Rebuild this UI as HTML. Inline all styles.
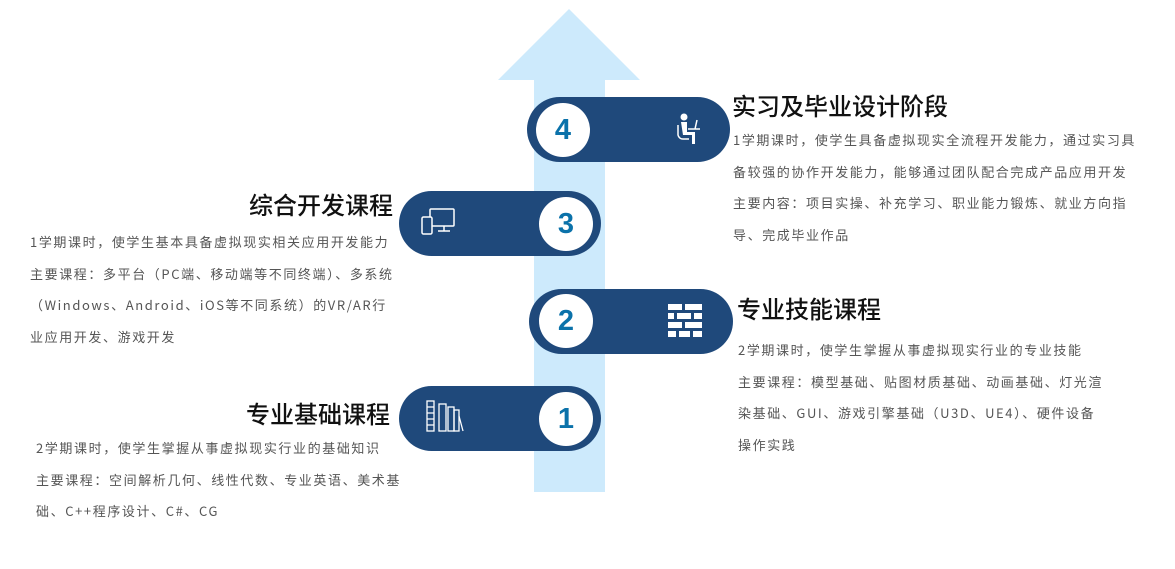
<!DOCTYPE html>
<html><head><meta charset="utf-8"><style>
body{margin:0;width:1175px;height:569px;background:#fff;position:relative;overflow:hidden;font-family:"Liberation Sans","Noto Sans CJK SC",sans-serif;}
.a{position:absolute}
.pill{position:absolute;height:65px;border-radius:33px;background:#1f497b;}
.circ{position:absolute;width:54px;height:54px;border-radius:50%;background:#fff;color:#0b72aa;font-weight:bold;font-size:29px;text-align:center;line-height:54px;}
.t{position:absolute;font-size:24px;color:#111;white-space:nowrap;font-family:"Noto Sans CJK SC",sans-serif;font-weight:500;line-height:30px}
.b{position:absolute;font-size:13px;color:#555;letter-spacing:1.6px;line-height:31.7px;white-space:nowrap;font-family:"Noto Sans CJK SC",sans-serif}
</style></head><body>
<svg class="a" style="left:0;top:0" width="1175" height="569">
<polygon points="569,9 640,80 605,80 605,492 534,492 534,80 498,80" fill="#cdeafc"/>
</svg>
<div class="pill" style="left:527px;top:97px;width:203px"></div>
<div class="circ" style="left:536px;top:103px">4</div>
<div class="pill" style="left:399px;top:191px;width:202px"></div>
<div class="circ" style="left:539px;top:197px">3</div>
<div class="pill" style="left:529px;top:289px;width:204px"></div>
<div class="circ" style="left:539px;top:294px">2</div>
<div class="pill" style="left:399px;top:386px;width:202px"></div>
<div class="circ" style="left:539px;top:392px">1</div>
<svg class="a" style="left:668px;top:113px" width="36" height="34" fill="#fff" stroke="#fff">
<circle cx="16" cy="4" r="3.5" stroke="none"/><path d="M13 9h6v10h8v12h-3v-9h-9z" stroke="none"/><path d="M20 16h12M29 7l-2 9" stroke-width="1.5" fill="none"/><path d="M10 12v10a5 5 0 0 0 5 4h6" stroke-width="1.5" fill="none"/>
</svg>
<svg class="a" style="left:668px;top:304px" width="34" height="34" fill="#fff">
<rect x="0" y="0" width="14" height="6"/><rect x="17" y="0" width="17" height="6"/><rect x="0" y="9" width="6" height="6"/><rect x="9" y="9" width="14" height="6"/><rect x="26" y="9" width="8" height="6"/><rect x="0" y="18" width="14" height="6"/><rect x="17" y="18" width="17" height="6"/><rect x="0" y="27" width="8" height="6"/><rect x="11" y="27" width="11" height="6"/><rect x="25" y="27" width="9" height="6"/>
</svg>
<svg class="a" style="left:420px;top:207px" width="40" height="30" fill="none" stroke="#fff" stroke-width="1.5">
<rect x="10" y="2" width="24" height="17" rx="1"/><path d="M18 24h12M24 19v5"/><rect x="2" y="10" width="10" height="17" rx="1.5" fill="#1f497b"/>
</svg>
<svg class="a" style="left:426px;top:400px" width="40" height="34" fill="none" stroke="#fff" stroke-width="1.3">
<rect x="1" y="1" width="7" height="30"/><path d="M1 7h7M1 13h7M1 19h7M1 25h7"/><rect x="13" y="4" width="7" height="27"/><rect x="22" y="7" width="6" height="24"/><rect x="28" y="10" width="5" height="21"/><path d="M33 16l4 15"/>
</svg>
<div class="t" style="left:732px;top:90px">实习及毕业设计阶段</div>
<div class="b" style="left:733px;top:124px">1学期课时，使学生具备虚拟现实全流程开发能力，通过实习具<br>备较强的协作开发能力，能够通过团队配合完成产品应用开发<br>主要内容：项目实操、补充学习、职业能力锻炼、就业方向指<br>导、完成毕业作品</div>
<div class="t" style="left:249px;top:189px">综合开发课程</div>
<div class="b" style="left:30px;top:226px">1学期课时，使学生基本具备虚拟现实相关应用开发能力<br>主要课程：多平台（PC端、移动端等不同终端）、多系统<br>（Windows、Android、iOS等不同系统）的VR/AR行<br>业应用开发、游戏开发</div>
<div class="t" style="left:737px;top:293px">专业技能课程</div>
<div class="b" style="left:738px;top:334px">2学期课时，使学生掌握从事虚拟现实行业的专业技能<br>主要课程：模型基础、贴图材质基础、动画基础、灯光渲<br>染基础、GUI、游戏引擎基础（U3D、UE4）、硬件设备<br>操作实践</div>
<div class="t" style="left:246px;top:398px">专业基础课程</div>
<div class="b" style="left:36px;top:432px">2学期课时，使学生掌握从事虚拟现实行业的基础知识<br>主要课程：空间解析几何、线性代数、专业英语、美术基<br>础、C++程序设计、C#、CG</div>
</body></html>
